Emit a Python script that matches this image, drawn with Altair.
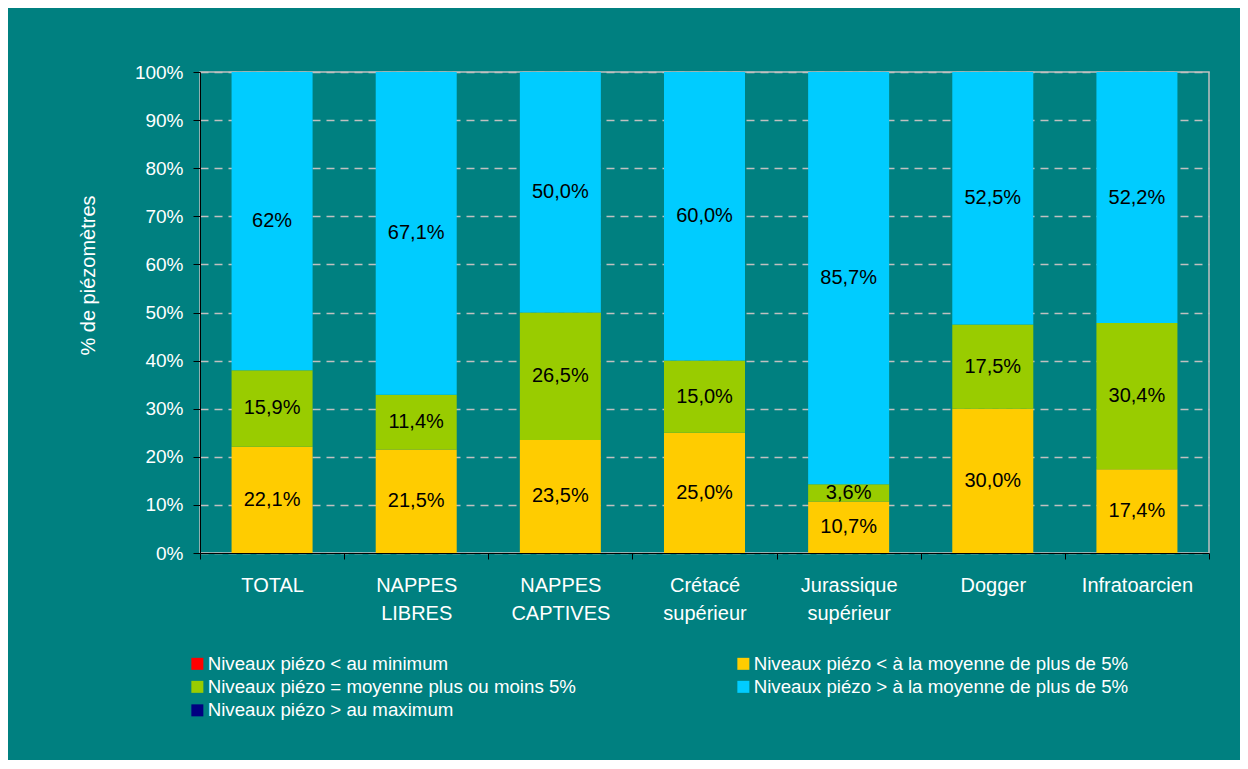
import altair as alt
import pandas as pd

categories = ["TOTAL", "NAPPES\nLIBRES", "NAPPES\nCAPTIVES", "Crétacé\nsupérieur",
              "Jurassique\nsupérieur", "Dogger", "Infratoarcien"]
series_names = [
    "Niveaux piézo < au minimum",
    "Niveaux piézo < à la moyenne de plus de 5%",
    "Niveaux piézo = moyenne plus ou moins 5%",
    "Niveaux piézo > à la moyenne de plus de 5%",
    "Niveaux piézo > au maximum",
]
series_colors = ["#FF0000", "#FFCC00", "#99CC00", "#00CCFF", "#000080"]
legend_order = [0, 2, 4, 1, 3]  # column-major fill giving the reference's row layout
below_min = [0, 0, 0, 0, 0, 0, 0]
below_mean = [22.1, 21.5, 23.5, 25.0, 10.7, 30.0, 17.4]
near_mean = [15.9, 11.4, 26.5, 15.0, 3.6, 17.5, 30.4]
above_mean = [62.0, 67.1, 50.0, 60.0, 85.7, 52.5, 52.2]
above_max = [0, 0, 0, 0, 0, 0, 0]
above_mean_labels = ["62%", "67,1%", "50,0%", "60,0%", "85,7%", "52,5%", "52,2%"]

FONT = "Liberation Sans"
TEAL = "#008080"

series_values = [below_min, below_mean, near_mean, above_mean, above_max]
rows = []
for s_idx, (name, vals) in enumerate(zip(series_names, series_values)):
    for c_idx, (cat, v) in enumerate(zip(categories, vals)):
        if s_idx == 3:
            lab = above_mean_labels[c_idx]
        elif v > 0:
            lab = f"{v:.1f}".replace(".", ",") + "%"
        else:
            lab = ""
        rows.append({"cat": cat, "series": name, "sidx": s_idx, "value": v, "label": lab})
df = pd.DataFrame(rows)

leg_domain = [series_names[i] for i in legend_order]
leg_range = [series_colors[i] for i in legend_order]

x_enc = alt.X("cat:N", sort=categories, title=None,
              scale=alt.Scale(paddingInner=0, paddingOuter=0),
              axis=alt.Axis(labelExpr="isValid(datum.value) ? split(datum.value, '\\n') : ''",
                            labelAngle=0,
                            labelColor="white", labelFontSize=20, labelLineHeight=28,
                            labelPadding=16, tickBand="extent", tickSize=6,
                            tickColor="black", domainColor="black", grid=False,
                            labelFont=FONT))

bars = alt.Chart(df).mark_bar(width=alt.RelativeBandSize(0.562)).encode(
    x=x_enc,
    y=alt.Y("value:Q", stack="zero",
            scale=alt.Scale(domain=[0, 100], nice=False),
            axis=alt.Axis(values=list(range(0, 101, 10)), labelExpr="datum.value + '%'",
                          title="% de piézomètres", titleColor="white", titleFontSize=20,
                          titleFontWeight="normal", titleFont=FONT, titleAngle=270,
                          titleX=-112, titleY=203, titleAlign="center", titleBaseline="middle",
                          labelColor="white", labelFontSize=19, labelFont=FONT,
                          labelPadding=10, tickSize=7, tickColor="black",
                          domainColor="black", grid=True, gridColor="#C0C0C0",
                          gridDash=[8, 6], gridWidth=1.5)),
    color=alt.Color("series:N",
                    scale=alt.Scale(domain=leg_domain, range=leg_range),
                    legend=alt.Legend(title=None, orient="none", legendX=-12, legendY=582,
                                      columns=2, columnPadding=158, rowPadding=3.5,
                                      symbolType="square", symbolSize=144,
                                      symbolStrokeWidth=0, symbolOpacity=1,
                                      labelColor="white", labelFontSize=18.7, labelFont=FONT,
                                      labelLimit=600, labelOffset=1)),
    order=alt.Order("sidx:Q"),
)

texts = alt.Chart(df).transform_stack(
    stack="value", groupby=["cat"], as_=["v0", "v1"],
    sort=[alt.SortField("sidx", order="ascending")]
).transform_calculate(
    mid="(datum.v0 + datum.v1) / 2"
).transform_filter(
    "datum.label != ''"
).mark_text(font=FONT, fontSize=20, color="black").encode(
    x=alt.X("cat:N", sort=categories),
    y=alt.Y("mid:Q"),
    text="label:N",
)

chart = alt.layer(bars, texts).properties(
    width=1009, height=481,
    padding={"left": 192, "top": 64, "right": 31, "bottom": 207},
    autosize=alt.AutoSizeParams(type="none"),
    background=TEAL,
).configure_view(stroke="#C0C0C0", strokeWidth=1.5)

chart.save("out.html", embed_options={"renderer": "svg", "actions": False})
